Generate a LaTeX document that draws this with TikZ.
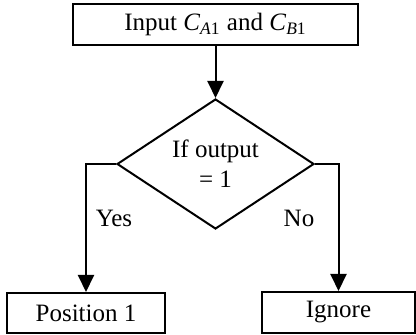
\documentclass[tikz,border=0pt]{standalone}
\usepackage{amsmath}
\usepackage{fontspec}
\setmainfont{Liberation Serif}
\usepackage{tikz}
\usetikzlibrary{shapes.geometric,arrows.meta}

\tikzset{
  flowbox/.style={draw,line width=1pt,minimum height=20.5pt,inner sep=0pt},
  decide/.style={draw,diamond,line width=1pt,aspect=1.5,minimum width=98.5pt,minimum height=65pt,inner sep=0pt,align=center},
  flowarrow/.style={line width=1pt,-{Triangle[length=8.5pt,width=8pt]}}
}

\begin{document}
\begin{tikzpicture}[x=0.5pt,y=-0.5pt,font=\fontsize{12.5}{15}\selectfont]
  \useasboundingbox (0,0) rectangle (416,335);
  % boxes and the test
  \node[flowbox,minimum width=142.5pt] (input) at (215.5,24.5) {Input \textit{C}$_{\text{\textit{A}1}}$ and \textit{C}$_{\text{\textit{B}1}}$};
  \node[decide] (check) at (215.5,164) {If output\\= 1};
  \node[flowbox,minimum width=79pt,minimum height=20pt] (pos) at (86,313) {Position 1};
  \node[flowbox,minimum width=76.5pt] (ign) at (338.5,312.5) {Ignore};
  % connectors
  \draw[flowarrow] (input) -- (check);
  \draw[flowarrow] (check.west) -| (pos);
  \draw[flowarrow] (check.east) -| (ign);
  % branch labels
  \node (yes) at (114,218) {Yes};
  \node (no) at (299,218) {No};
\end{tikzpicture}
\end{document}
